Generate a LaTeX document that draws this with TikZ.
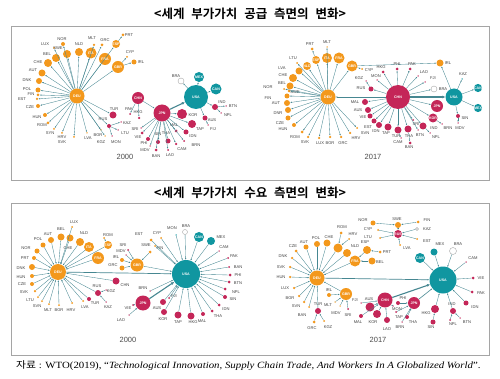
\documentclass[tikz,border=0pt]{standalone}
\usepackage{graphicx}
\usepackage{fontspec}
\setmainfont{Liberation Serif}
\newfontfamily\kr{Noto Sans CJK KR}[BoldFont={Noto Sans CJK KR Bold}]
\newfontfamily\lf{Liberation Sans}
\usetikzlibrary{arrows.meta}
\definecolor{cor}{RGB}{243,152,28}
\definecolor{cmg}{RGB}{196,38,88}
\definecolor{ctl}{RGB}{16,150,160}
\definecolor{ced}{RGB}{70,135,145}
\definecolor{cfr}{RGB}{165,165,165}
\tikzset{
  nO/.style={circle,fill=cor,inner sep=0pt,minimum size=#1pt},
  nM/.style={circle,fill=cmg,inner sep=0pt,minimum size=#1pt},
  nT/.style={circle,fill=ctl,inner sep=0pt,minimum size=#1pt},
  nW/.style={circle,draw=gray!70,fill=white,line width=0.4pt,inner sep=0pt,minimum size=#1pt},
  lb/.style={font=\lf\fontsize{4.1}{4.5}\selectfont,text=black!75,inner sep=0pt},
  hubt/.style={text=white,font=\lf\bfseries\fontsize{3.6}{4}\selectfont},
  ed/.style={draw=ced,line width=0.35pt,-{Latex[length=1.7pt,width=1.4pt]}},
  edh/.style={draw=ced,line width=1.1pt,-{Latex[length=3pt,width=3pt]}},
  yr/.style={font=\lf\fontsize{7.5}{8}\selectfont,text=black!70},
  frm/.style={draw=cfr,line width=0.8pt},
  ttl/.style={font=\kr\bfseries\fontsize{12.5}{14}\selectfont}
}
\newcommand\cty[7]{\node[#4=#5] (#1) at (#2,#3) {}; \node[lb] (#1l) at (#6,#7) {#1};}
\newcommand\hb[5]{\node[#4=#5,hubt] (#1) at (#2,#3) {#1};}
\newcommand\ws{\hspace{0.55em}}
\begin{document}
\begin{tikzpicture}[x=1pt,y=-1pt]
\useasboundingbox (0,0) rectangle (500,379);
\fill[white] (0,0) rectangle (500,379);
\node[ttl] (t1) at (250,14) {<세계\ws 부가가치\ws 공급\ws 측면의\ws 변화>};
\node[ttl] (t2) at (250,193) {<세계\ws 부가가치\ws 수요\ws 측면의\ws 변화>};
\draw[frm] (11,26) rectangle (489,180);
\draw[frm] (11,203) rectangle (489,355);
\node[anchor=west,inner sep=0pt] (src) at (16,366) {\scalebox{1.14}[1]{\fontsize{9.5}{11}\selectfont{\kr 자료} : WTO(2019), “\textit{Technological Innovation, Supply Chain Trade, And Workers In A Globalized World}”.}};

% ---------------- panel 1 ----------------
\begin{scope}[name prefix=p1-]
\hb{DEU}{77}{96}{nO}{15}
\hb{ITA}{91}{53}{nO}{11}
\hb{FRA}{105}{59}{nO}{12}
\hb{GBR}{118}{67}{nO}{12}
\hb{ESP}{116}{44}{nO}{8}
\cty{NLD}{79}{52}{nO}{8}{79}{44}
\cty{MLT}{94}{45}{nO}{2.5}{92}{38}
\cty{GRC}{102}{45}{nO}{3}{105}{40}
\cty{PRT}{123}{35}{nO}{3}{129}{35}
\cty{CYP}{127}{57}{nO}{2}{130}{52}
\cty{IRL}{134}{62}{nO}{5}{141}{62}
\cty{NOR}{63}{44}{nO}{4}{62}{39}
\cty{LUX}{54}{48}{nO}{2}{45}{44}
\cty{SWE}{67}{54}{nO}{8}{58}{48}
\cty{BEL}{56}{58}{nO}{8}{47}{54}
\cty{CHE}{48}{63}{nO}{8}{38}{62}
\cty{AUT}{42}{73}{nO}{7}{33}{70}
\cty{DNK}{39}{81}{nO}{6}{27}{80}
\cty{POL}{38}{90}{nO}{5}{27}{89}
\cty{FIN}{38}{95}{nO}{3}{31}{94}
\cty{EST}{37}{99}{nO}{2.5}{22}{99}
\cty{CZE}{38}{106}{nO}{4}{30}{107}
\cty{HUN}{45}{115}{nO}{4}{37}{117}
\cty{ROM}{48}{123}{nO}{3}{42}{125}
\cty{SYN}{54}{129}{nO}{2}{50}{133}
\cty{HRV}{62}{133}{nO}{2}{62}{137}
\node[lb] (SVKl) at (62,142) {SVK};
\node[nO=2] (X1) at (74,137) {};
\cty{LVA}{87}{133}{nO}{1.5}{88}{138}
\cty{BGR}{101}{130}{nO}{1.5}{98}{135}
\cty{KGZ}{105}{136}{nO}{1.5}{101}{142}
\cty{MON}{112}{136}{nM}{1.5}{116}{142}
\cty{RUS}{109}{126}{nM}{4}{103}{119}
\cty{TUR}{113}{115}{nM}{7}{114}{109}
\cty{KAZ}{121}{122}{nM}{1.5}{127}{123}
\cty{LTU}{118}{130}{nM}{1.5}{125}{133}
\foreach \n in {NLD,ITA,FRA,GBR,ESP,MLT,GRC,NOR,LUX,SWE,BEL,CHE,AUT,DNK,POL,FIN,EST,CZE,HUN,ROM,SYN,HRV,X1,LVA,BGR,KGZ,RUS,TUR}
  \draw[ed] (DEU) -- (\n);
\draw[ed] (ESP) -- (PRT);
\draw[ed] (GBR) -- (CYP);
\draw[ed] (GBR) -- (IRL);
\foreach \n in {KAZ,LTU,MON} \draw[ed] (RUS) -- (\n);
\hb{CHN}{138}{98}{nM}{12}
\hb{JPN}{162}{113}{nM}{17}
\hb{USA}{196}{97}{nT}{24}
\hb{MEX}{199}{77}{nT}{10}
\hb{CAN}{216}{89}{nT}{11}
\cty{BRA}{181}{81}{nW}{6}{176}{76}
\cty{PAK}{130}{114}{nM}{2}{129}{109}
\cty{HKG}{139}{118}{nM}{2.5}{138}{112}
\cty{IND}{215}{107}{nM}{6}{222}{102}
\cty{BTN}{226}{106}{nM}{1.5}{233}{106}
\cty{NPL}{221}{113}{nM}{1.5}{228}{115}
\cty{AUS}{205}{118}{nM}{5}{212}{120}
\cty{FIJ}{208}{125}{nM}{1.5}{213}{129}
\cty{KOR}{182}{114}{nM}{10}{193}{115}
\cty{TAP}{192}{124}{nM}{8}{200}{129}
\cty{IDN}{186}{132}{nM}{5}{193}{136}
\cty{MAL}{176}{131}{nM}{3}{174}{125}
\cty{BRN}{184}{141}{nM}{2}{196}{145}
\cty{CAM}{176}{144}{nM}{2.5}{182}{149}
\cty{SIN}{158}{142}{nM}{4}{158}{134}
\cty{THA}{168}{141}{nM}{5}{166}{133}
\cty{PHI}{148}{139}{nM}{4}{144}{143}
\cty{VIE}{142}{133}{nM}{3}{138}{137}
\cty{SRI}{141}{128}{nM}{1.5}{135}{129}
\cty{MDV}{150}{146}{nM}{1.5}{145}{150}
\cty{BAN}{156}{150}{nM}{3}{156}{156}
\cty{LAO}{168}{150}{nM}{2}{170}{155}
\draw[ed] (CHN) -- (PAK);
\draw[ed] (CHN) -- (HKG);
\draw[ed] (CHN) -- (JPN);
\draw[edh] (JPN) -- (USA);
\foreach \n in {MEX,CAN,BRA,IND,AUS} \draw[ed] (USA) -- (\n);
\draw[ed] (IND) -- (BTN);
\draw[ed] (IND) -- (NPL);
\draw[ed] (AUS) -- (FIJ);
\foreach \n in {KOR,TAP,IDN,MAL,BRN,CAM,SIN,THA,PHI,VIE,SRI,MDV,BAN,LAO} \draw[ed] (JPN) -- (\n);
\node[yr] (yr) at (125,157) {2000};
\end{scope}

% ---------------- panel 2 ----------------
\begin{scope}[name prefix=p2-]
\hb{DEU}{328}{97}{nO}{15}
\hb{NLD}{307}{66}{nO}{8}
\hb{ESP}{316}{60}{nO}{8}
\hb{ITA}{327}{58}{nO}{10}
\hb{FRA}{339}{58}{nO}{11}
\hb{GBR}{352}{66}{nO}{11}
\cty{PRT}{312}{49}{nO}{3}{310}{44}
\cty{MLT}{327}{47}{nO}{1.5}{327}{42}
\cty{LTU}{297}{63}{nO}{2}{293}{58}
\cty{LVA}{299}{71}{nO}{7}{282}{68}
\cty{CHE}{293}{78}{nO}{8}{283}{75}
\cty{BEL}{290}{86}{nO}{7}{282}{83}
\cty{NOR}{284}{89}{nO}{2}{268}{87}
\cty{SWE}{289}{91}{nO}{3}{295}{92}
\cty{FIN}{287}{96}{nO}{5}{268}{98}
\cty{AUT}{287}{103}{nO}{6}{276}{103}
\cty{DNR}{288}{110}{nO}{6}{278}{113}
\cty{CZE}{288}{118}{nO}{5}{280}{123}
\cty{HUN}{294}{125}{nO}{4}{283}{129}
\cty{ROM}{302}{132}{nO}{3}{295}{137}
\cty{SVK}{308}{137}{nO}{2.5}{305}{142}
\cty{LUX}{319}{138}{nO}{2.5}{320}{143}
\cty{BGR}{330}{137}{nO}{2.5}{330}{143}
\cty{GRC}{341}{137}{nO}{2.5}{343}{143}
\cty{HRV}{350}{133}{nO}{2.5}{356}{138}
\cty{SVN}{357}{128}{nO}{2}{365}{133}
\cty{CYP}{362}{69}{nO}{2}{369}{70}
\cty{IRL}{440}{63}{nO}{7}{448}{63}
\foreach \n in {NLD,ESP,ITA,FRA,GBR,MLT,LTU,LVA,CHE,BEL,NOR,SWE,FIN,AUT,DNR,CZE,HUN,ROM,SVK,LUX,BGR,GRC,HRV,SVN}
  \draw[ed] (DEU) -- (\n);
\draw[ed] (ESP) -- (PRT);
\draw[ed] (GBR) -- (CYP);
\draw[ed] (GBR) -- (IRL);
\hb{CHN}{398}{97}{nM}{24}
\hb{USA}{454}{97}{nT}{17}
\hb{CAN}{478}{88}{nT}{8}
\hb{MEX}{478}{108}{nT}{8}
\hb{JPN}{437}{106}{nM}{12}
\hb{KOR}{433}{118}{nM}{9}
\cty{HKG}{383}{72}{nM}{3}{381}{67}
\cty{PHI}{397}{69}{nM}{3}{397}{64}
\cty{PAK}{410}{69}{nM}{3}{412}{64}
\cty{LAO}{418}{76}{nM}{1.5}{424}{72}
\cty{FJI}{425}{82}{nM}{1.5}{433}{78}
\cty{BRA}{434}{89}{nW}{6}{443}{89}
\cty{MON}{377}{80}{nM}{1.5}{376}{76}
\cty{RUS}{371}{89}{nM}{5}{361}{88}
\cty{KGZ}{366}{81}{nM}{1.5}{359}{78}
\cty{MAL}{365}{102}{nM}{6}{355}{102}
\cty{AUS}{368}{110}{nM}{6}{358}{110}
\cty{VIE}{370}{116}{nM}{5}{363}{117}
\cty{EST}{374}{121}{nM}{5}{368}{127}
\cty{IDN}{379}{125}{nM}{6}{376}{131}
\cty{TAP}{388}{127}{nM}{7}{386}{133}
\cty{TUR}{398}{130}{nM}{7}{396}{136}
\cty{THA}{408}{129}{nM}{7}{409}{136}
\cty{CAM}{401}{138}{nM}{1.5}{398}{142}
\cty{BAN}{410}{143}{nM}{3}{409}{147}
\cty{SRI}{413}{120}{nM}{2}{416}{124}
\cty{IND}{423}{126}{nM}{7}{434}{128}
\cty{BTN}{418}{130}{nM}{1.5}{420}{135}
\cty{NPL}{430}{133}{nM}{1.5}{436}{137}
\cty{BRN}{442}{124}{nM}{1.5}{448}{128}
\cty{SIN}{458}{116}{nM}{4}{465}{118}
\cty{MDV}{458}{123}{nM}{1.5}{460}{128}
\cty{KAZ}{462}{79}{nT}{1.5}{463}{74}
\draw[ed] (CHN) -- (DEU);
\draw[edh] (CHN) -- (USA);
\foreach \n in {JPN,KOR,HKG,PHI,PAK,LAO,FJI,BRA,MON,RUS,MAL,AUS,VIE,EST,IDN,TAP,TUR,THA,SRI,IND,BTN} \draw[ed] (CHN) -- (\n);
\draw[ed] (RUS) -- (KGZ);
\draw[ed] (THA) -- (BAN);
\draw[ed] (TUR) -- (CAM);
\draw[ed] (IND) -- (NPL);
\draw[ed] (KOR) -- (BRN);
\foreach \n in {CAN,MEX,SIN,KAZ,IRL} \draw[ed] (USA) -- (\n);
\draw[ed] (SIN) -- (MDV);
\node[yr] (yr) at (373,157) {2017};
\end{scope}

% ---------------- panel 3 ----------------
\begin{scope}[name prefix=p3-]
\hb{DEU}{58}{272}{nO}{16}
\hb{ITA}{89}{247}{nO}{10}
\hb{ESP}{108}{245}{nO}{8}
\hb{FRA}{98}{258}{nO}{12}
\hb{GBR}{137}{265}{nO}{13}
\hb{USA}{186}{274}{nT}{28}
\hb{CAN}{199}{237}{nT}{10}
\hb{JPN}{143}{303}{nM}{15}
\cty{MEX}{211}{241}{nT}{8}{221}{237}
\cty{LUX}{72}{227}{nO}{2}{74}{222}
\cty{BEL}{61}{237}{nO}{7}{61}{229}
\cty{CHE}{70}{238}{nO}{7}{68}{248}
\cty{NLD}{80}{242}{nO}{8}{84}{233}
\cty{AUT}{51}{240}{nO}{6}{48}{234}
\cty{POL}{43}{245}{nO}{5}{38}{239}
\cty{NOR}{37}{251}{nO}{5}{26}{248}
\cty{PRT}{34}{258}{nO}{4}{25}{258}
\cty{DNK}{32}{267}{nO}{6}{21}{268}
\cty{HUN}{32}{276}{nO}{4}{21}{277}
\cty{CZE}{32}{284}{nO}{4}{22}{284}
\cty{SVK}{35}{291}{nO}{2.5}{24}{292}
\cty{LTU}{38}{297}{nO}{2}{30}{300}
\cty{SVN}{42}{301}{nO}{2}{37}{306}
\cty{MLT}{49}{304}{nO}{2}{48}{310}
\cty{BGR}{59}{305}{nO}{2}{59}{310}
\cty{HRV}{72}{303}{nO}{2}{71}{310}
\cty{LVA}{83}{301}{nO}{2}{85}{307}
\cty{TUR}{89}{299}{nM}{4}{95}{303}
\cty{RUS}{98}{293}{nM}{6}{97}{286}
\cty{KGZ}{106}{290}{nM}{1.5}{111}{291}
\cty{KAZ}{106}{302}{nM}{1.5}{108}{307}
\cty{CHN}{116}{281}{nM}{7}{125}{285}
\cty{ROM}{104}{238}{nO}{2}{108}{235}
\foreach \n in {LUX,BEL,CHE,NLD,AUT,POL,NOR,PRT,DNK,HUN,CZE,SVK,LTU,SVN,MLT,BGR,HRV,LVA,TUR,RUS,CHN,ITA,FRA,ESP}
  \draw[ed] (\n) -- (DEU);
\draw[ed] (ROM) -- (ESP);
\draw[ed] (KGZ) -- (RUS);
\draw[ed] (KAZ) -- (RUS);
\draw[ed,line width=0.7pt] (DEU) -- (USA);
\cty{SRI}{128}{250}{nM}{2}{123}{245}
\cty{MDV}{126}{255}{nM}{1.5}{121}{251}
\cty{IRL}{122}{260}{nO}{4}{116}{257}
\cty{GRC}{122}{268}{nO}{5}{113}{265}
\cty{SWE}{150}{252}{nO}{3}{146}{245}
\cty{EST}{151}{240}{nO}{3}{139}{234}
\cty{CYP}{161}{238}{nO}{2}{157}{233}
\cty{FIN}{155}{246}{nO}{2}{160}{248}
\foreach \n in {SRI,MDV,IRL,GRC,SWE} \draw[ed] (\n) -- (GBR);
\draw[ed] (GBR) -- (USA);
\cty{MON}{176}{235}{nT}{1.5}{172}{228}
\cty{BRA}{185}{232}{nW}{5}{186}{226}
\cty{CAM}{219}{251}{nM}{1.5}{224}{247}
\cty{PAK}{228}{258}{nM}{2}{234}{256}
\cty{BAN}{229}{267}{nM}{2}{238}{267}
\cty{PHI}{230}{275}{nM}{3}{238}{275}
\cty{BTN}{229}{282}{nM}{3}{238}{283}
\cty{NPL}{225}{289}{nM}{3}{236}{292}
\cty{SIN}{225}{297}{nM}{4}{233}{299}
\cty{IDN}{219}{305}{nM}{3}{226}{309}
\cty{THA}{212}{311}{nM}{3}{218}{316}
\cty{MAL}{203}{314}{nM}{4}{202}{321}
\cty{HKG}{191}{316}{nM}{7}{193}{322}
\cty{TAP}{178}{315}{nM}{7}{178}{322}
\cty{KOR}{164}{312}{nM}{6}{163}{319}
\cty{AUS}{163}{302}{nM}{6}{157}{308}
\cty{FJI}{169}{298}{nM}{2}{174}{296}
\cty{BRN}{150}{291}{nM}{1.5}{143}{288}
\cty{VIE}{133}{305}{nM}{2}{128}{308}
\cty{LAO}{129}{315}{nM}{1.5}{121}{320}
\foreach \n in {MON,BRA,CAN,MEX,CAM,PAK,BAN,PHI,BTN,NPL,SIN,IDN,THA,MAL,HKG,TAP,KOR,AUS,FJI,BRN,EST,CYP,FIN}
  \draw[ed] (\n) -- (USA);
\draw[edh] (JPN) -- (USA);
\draw[ed] (VIE) -- (JPN);
\draw[ed] (LAO) -- (JPN);
\node[yr] (yr) at (128,340) {2000};
\end{scope}

% ---------------- panel 4 ----------------
\begin{scope}[name prefix=p4-]
\hb{DEU}{317}{278}{nO}{15}
\hb{USA}{443}{280}{nT}{27}
\hb{CAN}{420}{258}{nT}{10}
\hb{GBR}{346}{294}{nO}{12}
\hb{FRA}{355}{261}{nO}{11}
\hb{CHN}{385}{300}{nM}{15}
\hb{JPN}{414}{303}{nM}{12}
\hb{RUS}{398}{234}{nM}{8}
\cty{MEX}{434}{252}{nT}{7}{440}{244}
\cty{BRA}{453}{251}{nW}{7}{458}{244}
\node[nO=9] (ITA) at (338,248) {};
\cty{ROM}{341}{233}{nO}{3}{342}{227}
\cty{HRV}{349}{239}{nO}{2}{353}{234}
\cty{CHE}{327}{243}{nO}{7}{329}{237}
\cty{POL}{317}{244}{nO}{6}{316}{238}
\cty{AUT}{306}{247}{nO}{5}{304}{242}
\cty{CZE}{296}{251}{nO}{3}{293}{246}
\cty{DNK}{292}{258}{nO}{2.5}{283}{256}
\cty{SVK}{290}{267}{nO}{2.5}{281}{267}
\cty{HUN}{290}{277}{nO}{2.5}{281}{277}
\cty{LUX}{294}{288}{nO}{2.5}{285}{288}
\cty{BGR}{299}{296}{nO}{2.5}{290}{298}
\cty{SVN}{304}{302}{nO}{2.5}{296}{306}
\cty{BAN}{309}{307}{nO}{2}{302}{315}
\cty{TUR}{318}{311}{nM}{6}{318}{304}
\cty{GRC}{314}{322}{nO}{3}{312}{328}
\cty{KGZ}{324}{321}{nO}{2}{328}{327}
\cty{NLD}{347}{253}{nO}{8}{355}{246}
\cty{ESP}{367}{250}{nO}{8}{365}{242}
\cty{BEL}{372}{261}{nO}{7}{380}{262}
\cty{PRT}{380}{252}{nO}{3}{387}{252}
\foreach \n in {ITA,CHE,POL,AUT,CZE,DNK,SVK,HUN,LUX,BGR,SVN,BAN,TUR,NLD,FRA,GBR}
  \draw[ed] (\n) -- (DEU);
\draw[ed] (ROM) -- (ITA);
\draw[ed] (HRV) -- (ITA);
\draw[ed] (ESP) -- (FRA);
\draw[ed] (BEL) -- (FRA);
\draw[ed] (PRT) -- (ESP);
\draw[ed] (GRC) -- (TUR);
\draw[ed] (KGZ) -- (TUR);
\draw[ed,line width=0.7pt] (DEU) -- (USA);
\cty{IRL}{329}{295}{nO}{4}{329}{290}
\cty{MLT}{335}{302}{nO}{1.5}{328}{305}
\cty{MDV}{340}{306}{nO}{1.5}{336}{313}
\cty{SRI}{348}{309}{nM}{2}{348}{315}
\foreach \n in {IRL,MLT,MDV,SRI} \draw[ed] (\n) -- (GBR);
\cty{NOR}{373}{223}{nO}{5}{363}{220}
\cty{SWE}{398}{225}{nO}{6}{397}{219}
\cty{FIN}{418}{222}{nO}{3}{427}{220}
\cty{KAZ}{417}{229}{nW}{3}{427}{229}
\cty{EST}{417}{239}{nO}{2}{427}{241}
\cty{LVA}{400}{245}{nO}{2}{407}{248}
\cty{CYP}{378}{230}{nO}{2}{368}{229}
\cty{LTU}{380}{238}{nO}{2}{368}{237}
\draw[ed] (NOR) -- (SWE);
\draw[ed] (FIN) -- (SWE);
\foreach \n in {SWE,KAZ,EST,LVA,CYP,LTU} \draw[ed] (\n) -- (RUS);
\cty{FJI}{361}{303}{nM}{1.5}{355}{300}
\cty{AUS}{370}{307}{nM}{9}{369}{299}
\cty{KOR}{377}{314}{nM}{8}{373}{322}
\cty{MAL}{361}{316}{nM}{4}{358}{322}
\cty{LAO}{387}{320}{nM}{6}{387}{329}
\cty{MON}{393}{306}{nM}{1.5}{397}{309}
\cty{PHI}{398}{303}{nM}{4}{403}{298}
\cty{TAP}{396}{312}{nM}{2}{399}{317}
\cty{THA}{407}{317}{nM}{4}{413}{322}
\cty{BRN}{402}{322}{nM}{1.5}{400}{327}
\foreach \n in {AUS,KOR,MAL,LAO,MON,FJI} \draw[ed] (\n) -- (CHN);
\foreach \n in {PHI,TAP,THA,BRN} \draw[ed] (\n) -- (JPN);
\draw[edh] (CHN) -- (USA);
\draw[ed,line width=0.6pt] (JPN) -- (USA);
\cty{HKG}{435}{309}{nM}{8}{426}{313}
\cty{SIN}{433}{322}{nM}{5}{431}{327}
\cty{IND}{453}{311}{nM}{6}{452}{304}
\cty{NPL}{450}{320}{nM}{2}{453}{324}
\cty{BTN}{460}{318}{nM}{1.5}{467}{322}
\cty{IDN}{466}{303}{nM}{5}{475}{307}
\cty{PAK}{472}{292}{nM}{3}{481}{293}
\cty{VIE}{473}{278}{nM}{3}{481}{278}
\cty{CAM}{466}{262}{nM}{1.5}{473}{258}
\foreach \n in {CAN,MEX,BRA,CAM,VIE,PAK,IDN,IND,HKG} \draw[ed] (\n) -- (USA);
\draw[ed] (NPL) -- (IND);
\draw[ed] (BTN) -- (IND);
\draw[ed] (SIN) -- (HKG);
\node[yr] (yr) at (378,340) {2017};
\end{scope}
\end{tikzpicture}
\end{document}
